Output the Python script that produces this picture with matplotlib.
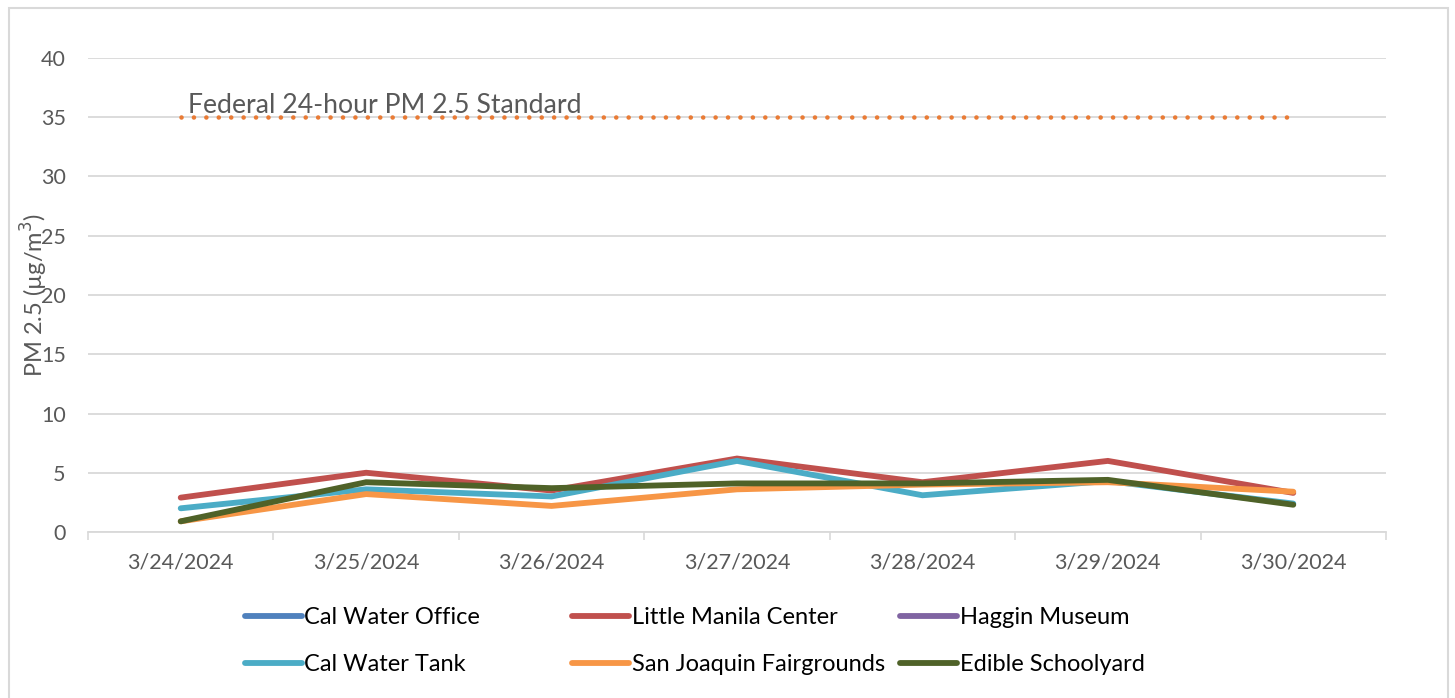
import matplotlib
matplotlib.use("Agg")
import matplotlib.pyplot as plt
import numpy as np
from matplotlib.lines import Line2D
from matplotlib.patches import Rectangle
from matplotlib import font_manager

dates = ["3/24/2024", "3/25/2024", "3/26/2024", "3/27/2024", "3/28/2024", "3/29/2024", "3/30/2024"]

cal_water_office = [np.nan] * 7
little_manila_center = [2.9, 5.0, 3.5, 6.2, 4.2, 6.0, 3.3]
haggin_museum = [np.nan] * 7
cal_water_tank = [2.0, 3.6, 3.0, 6.0, 3.1, 4.3, 2.4]
san_joaquin_fairgrounds = [0.9, 3.2, 2.2, 3.6, 4.0, 4.2, 3.4]
edible_schoolyard = [0.9, 4.2, 3.7, 4.1, 4.1, 4.4, 2.3]
federal_standard = [35] * 7

series_names = ["Cal Water Office", "Little Manila Center", "Haggin Museum",
                "Cal Water Tank", "San Joaquin Fairgrounds", "Edible Schoolyard"]
series_values = [cal_water_office, little_manila_center, haggin_museum,
                 cal_water_tank, san_joaquin_fairgrounds, edible_schoolyard]
colors = ["#4F81BD", "#C0504D", "#8064A2", "#4BACC6", "#F79646", "#4F6228"]

yticks = [0, 5, 10, 15, 20, 25, 30, 35, 40]

avail = {f.name for f in font_manager.fontManager.ttflist}
main_font = "Lato" if "Lato" in avail else "DejaVu Sans"
legend_font = "Liberation Sans Narrow" if "Liberation Sans Narrow" in avail else main_font

W, H = 1455, 698
fig = plt.figure(figsize=(W / 100, H / 100), dpi=100)
fig.patch.set_facecolor("white")
fig.add_artist(Rectangle((9 / W, -0.01), (1448 - 9) / W, (H - 8) / H + 0.01,
                         transform=fig.transFigure, fill=False,
                         edgecolor="#D9D9D9", linewidth=1.5))

ax = fig.add_axes([88 / W, (H - 532) / H, (1386 - 88) / W, (532 - 58) / H])
x = np.arange(len(dates))

ax.plot(x, federal_standard, color="#E97B35", lw=3.3,
        linestyle=(0, (0.01, 2.7)), dash_capstyle="round", zorder=3)
ax.annotate("Federal 24-hour PM 2.5 Standard", xy=(0, 35), xytext=(5, 3),
            textcoords="offset points", ha="left", va="baseline",
            fontsize=19.2, color="#595959", family=main_font, zorder=4)

for name, vals, c in zip(series_names, series_values, colors):
    ax.plot(x, vals, color=c, lw=4.2, solid_capstyle="round",
            solid_joinstyle="miter", label=name, zorder=3)

ax.set_xlim(-0.5, len(dates) - 0.5)
ax.set_ylim(0, 40)
ax.set_yticks(yticks)
ax.set_yticklabels([str(t) for t in yticks])
ax.set_xticks(x)
ax.set_xticklabels(dates)
ax.set_xticks(np.arange(-0.5, len(dates)), minor=True)
ax.tick_params(axis="y", length=0, pad=16, labelsize=15.5, labelcolor="#595959")
ax.tick_params(axis="x", which="major", length=0, pad=15, labelsize=15.5, labelcolor="#595959")
ax.tick_params(axis="x", which="minor", length=6, width=1.2, color="#D9D9D9")
for lab in ax.get_xticklabels() + ax.get_yticklabels():
    lab.set_family(main_font)

ax.grid(axis="y", color="#D9D9D9", lw=1.3, zorder=0)
for s in ["top", "right", "left"]:
    ax.spines[s].set_visible(False)
ax.spines["bottom"].set_color("#D9D9D9")
ax.spines["bottom"].set_linewidth(1.3)
ax.set_axisbelow(True)

ax.set_ylabel("PM 2.5 (µg/m$^{3}$)", fontsize=17, color="#595959", family=main_font)
ax.yaxis.set_label_coords(-0.0295, 0.5)

# Legend: three columns of two entries
handles = [Line2D([0], [0], color=c, lw=4.2, solid_capstyle="round") for c in colors]
col_x = [245, 572, 900]
for ci in range(3):
    idx = [ci, ci + 3]
    fig.legend([handles[i] for i in idx], [series_names[i] for i in idx],
               loc="upper left", bbox_to_anchor=(col_x[ci] / W, 1 - 607 / H),
               frameon=False, ncol=1, handlelength=2.4, handletextpad=0.12,
               labelspacing=1.1, borderaxespad=0, borderpad=0,
               prop={"family": legend_font, "size": 17})

fig.savefig("out.png", dpi=100)
